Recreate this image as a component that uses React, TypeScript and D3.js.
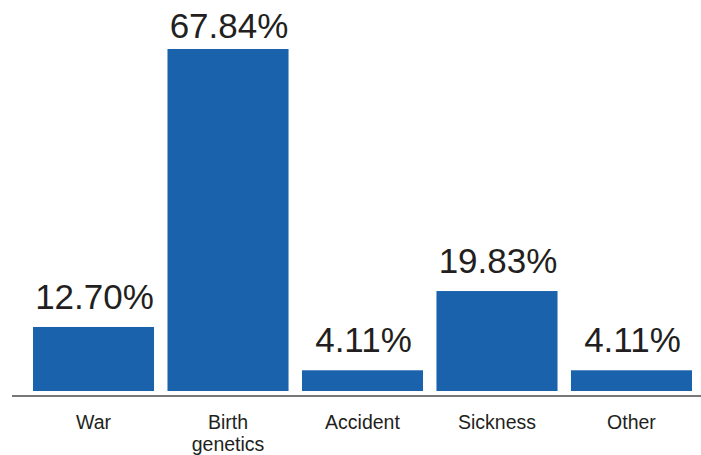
import * as d3 from "d3";
import { useEffect, useRef } from "react";

const categories = ["War", "Birth genetics", "Accident", "Sickness", "Other"];
const values = [12.7, 67.84, 4.11, 19.83, 4.11];
const valueLabels = ["12.70%", "67.84%", "4.11%", "19.83%", "4.11%"];

const W = 701;
const H = 455;
const margin = { top: 49, left: 33, right: 9, bottom: 64 };
const font = "'Liberation Sans', Arial, Helvetica, sans-serif";

export default function App() {
  const ref = useRef<SVGSVGElement>(null);

  useEffect(() => {
    const svg = d3.select(ref.current);
    svg.selectAll("*").remove();

    const base = H - margin.bottom;
    const x = d3.scaleBand<string>()
      .domain(categories)
      .range([margin.left, W - margin.right])
      .paddingInner(0.1)
      .paddingOuter(0);
    const y = d3.scaleLinear()
      .domain([0, d3.max(values) as number])
      .range([base, margin.top]);

    const data = categories.map((c, i) => ({ c, v: values[i], label: valueLabels[i] }));

    svg.append("g")
      .selectAll("rect")
      .data(data)
      .join("rect")
      .attr("x", (d) => x(d.c) as number)
      .attr("y", (d) => y(d.v))
      .attr("width", x.bandwidth())
      .attr("height", (d) => base - y(d.v))
      .attr("fill", "#1b62ad");

    // baseline
    svg.append("line")
      .attr("x1", 12)
      .attr("x2", W)
      .attr("y1", base + 5)
      .attr("y2", base + 5)
      .attr("stroke", "#777")
      .attr("stroke-width", 2);

    // value labels above bars
    svg.append("g")
      .selectAll("text")
      .data(data)
      .join("text")
      .attr("x", (d) => (x(d.c) as number) + x.bandwidth() / 2 + 1)
      .attr("y", (d) => Math.max(y(d.v) - 18, 38))
      .attr("text-anchor", "middle")
      .attr("font-family", font)
      .attr("font-size", 35)
      .attr("fill", "#231f20")
      .text((d) => d.label);

    // category labels, wrapped on spaces
    const cat = svg.append("g")
      .selectAll("text")
      .data(data)
      .join("text")
      .attr("text-anchor", "middle")
      .attr("font-family", font)
      .attr("font-size", 19.5)
      .attr("fill", "#231f20");
    cat.each(function (d) {
      const t = d3.select(this);
      const cx = (x(d.c) as number) + x.bandwidth() / 2;
      d.c.split(" ").forEach((word, j) => {
        t.append("tspan")
          .attr("x", cx)
          .attr("y", base + 38 + j * 22)
          .text(word);
      });
    });
  }, []);

  return (
    <svg
      ref={ref}
      width={W}
      height={H}
      style={{ position: "absolute", left: 0, top: 0, background: "#fff" }}
    />
  );
}
